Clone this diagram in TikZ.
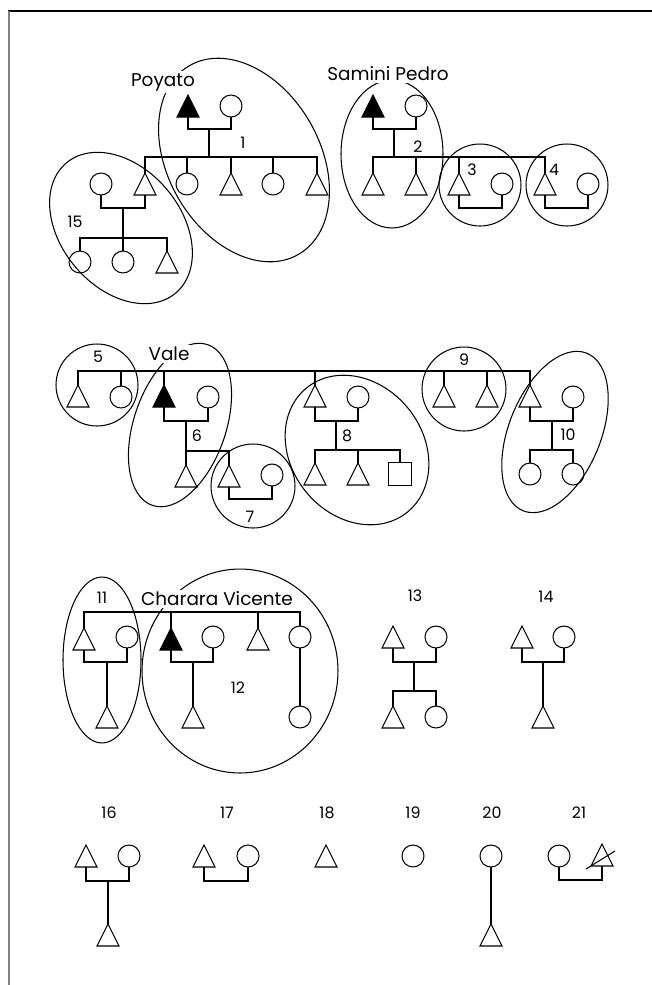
\documentclass[tikz,border=0pt]{standalone}
\usepackage{fontspec}
\setmainfont{Poppins}
\usetikzlibrary{calc}

\begin{document}
\begin{tikzpicture}[
    x=0.02cm, y=-0.02cm,
    line width=0.6pt,
    % Styles
    male/.style={rectangle, minimum width=0.44cm, minimum height=0.44cm, inner sep=0pt, outer sep=0pt},
    female/.style={circle, draw, minimum size=0.44cm, inner sep=0pt, outer sep=0pt},
    unknown/.style={rectangle, draw, minimum size=0.46cm, inner sep=0pt, outer sep=0pt},
    tri/.style={line join=miter},
    ego/.style={tri, fill=black},
    cluster/.style={line width=0.6pt},
    grpnum/.style={font=\fontsize{9}{10}\selectfont, inner sep=0pt},
    kinname/.style={font=\fontsize{10.5}{12}\selectfont, fill=white, inner sep=1pt}
]
    \useasboundingbox (0,0) rectangle (652,985);

    % frame
    \draw[line width=1.2pt] (8,11) -- (652,11);
    \draw[line width=1.2pt, black!50] (9,11) -- (9,985);

    % 1. FIRST ROW (Poyato, Samini Pedro)
    \node[male] (poyato) at (188,106) {};
    \node[female] (poyatow) at (231,106) {};
    \coordinate (m1) at (209,129);
    \coordinate (s1) at (209,157);
    \node[male] (c1a) at (145,184) {};
    \node[female] (c1b) at (187,184) {};
    \node[male] (c1c) at (231,184) {};
    \node[female] (c1d) at (273,184) {};
    \node[male] (c1e) at (317,184) {};
    \draw (poyato.south) |- (m1) -| (poyatow.south);
    \draw (m1) -- (s1);
    \draw (c1a.north) |- (s1) -| (c1e.north);
    \foreach \n in {c1b,c1c,c1d}
        \draw (\n.north) -- (\n.north |- s1);

    % couple 15
    \node[female] (w15) at (101,184) {};
    \coordinate (m15) at (123,208);
    \coordinate (s15) at (123,238);
    \node[female] (c15a) at (80,262) {};
    \node[female] (c15b) at (123,262) {};
    \node[male] (c15c) at (167,262) {};
    \draw (w15.south) |- (m15) -| (c1a.south);
    \draw (m15) -- (c15b.north);
    \draw (c15a.north) |- (s15) -| (c15c.north);

    % Samini Pedro
    \node[male] (samini) at (373,106) {};
    \node[female] (saminiw) at (416,106) {};
    \coordinate (m2) at (394,129);
    \coordinate (s2) at (394,157);
    \node[male] (c2a) at (373,184) {};
    \node[male] (c2b) at (416,184) {};
    \node[male] (c2c) at (459,184) {};
    \node[male] (c2d) at (545,184) {};
    \node[female] (w3) at (502,184) {};
    \node[female] (w4) at (588,184) {};
    \coordinate (m3) at (480,208);
    \coordinate (m4) at (566,208);
    \draw (samini.south) |- (m2) -| (saminiw.south);
    \draw (m2) -- (s2);
    \draw (c2a.north) |- (s2) -| (c2d.north);
    \foreach \n in {c2b,c2c}
        \draw (\n.north) -- (\n.north |- s2);
    \draw (c2c.south) |- (m3) -| (w3.south);
    \draw (c2d.south) |- (m4) -| (w4.south);

    % 2. SECOND ROW (Vale)
    \coordinate (sib2) at (300,371);
    \node[male] (c5a) at (78,396) {};
    \node[female] (c5b) at (121,397) {};
    \node[male] (vale) at (164,396) {};
    \node[female] (valew) at (208,397) {};
    \coordinate (m6) at (186,421);
    \coordinate (s6) at (186,451);
    \node[male] (c6a) at (186,476) {};
    \node[male] (c7a) at (229,476) {};
    \node[female] (w7) at (272,475) {};
    \coordinate (m7) at (250,499);
    \node[male] (c8a) at (315,396) {};
    \node[female] (w8) at (358,397) {};
    \coordinate (m8) at (336,421);
    \coordinate (s8) at (336,450);
    \node[male] (c8b) at (315,474) {};
    \node[male] (c8c) at (358,474) {};
    \node[unknown] (c8d) at (400,474) {};
    \node[male] (c9a) at (444,396) {};
    \node[male] (c9b) at (487,396) {};
    \node[male] (c10a) at (530,396) {};
    \node[female] (w10) at (573,397) {};
    \coordinate (m10) at (552,421);
    \coordinate (s10) at (552,450);
    \node[female] (c10b) at (530,474) {};
    \node[female] (c10c) at (573,474) {};

    \draw (c5a.north) |- (sib2) -| (c10a.north);
    \foreach \n in {c5b,vale,c8a,c9a,c9b}
        \draw (\n.north) -- (\n.north |- sib2);
    \draw (vale.south) |- (m6) -| (valew.south);
    \draw (m6) -- (s6);
    \draw (c6a.north) |- (s6) -| (c7a.north);
    \draw (c7a.south) |- (m7) -| (w7.south);
    \draw (c8a.south) |- (m8) -| (w8.south);
    \draw (m8) -- (s8);
    \draw (c8b.north) |- (s8) -| (c8d.north);
    \draw (c8c.north) -- (c8c.north |- s8);
    \draw (c10a.south) |- (m10) -| (w10.south);
    \draw (m10) -- (s10);
    \draw (c10b.north) |- (s10) -| (c10c.north);

    % 3. THIRD ROW (Charara Vicente, 13, 14)
    \coordinate (sib3) at (190,612);
    \node[male] (c11a) at (84,639) {};
    \node[female] (w11) at (127,637) {};
    \coordinate (m11) at (107,662);
    \node[male] (c11b) at (107,717) {};
    \node[male] (vicente) at (171,639) {};
    \node[female] (vicentew) at (213,637) {};
    \coordinate (m12) at (193,662);
    \node[male] (c12a) at (193,717) {};
    \node[male] (c12b) at (258,639) {};
    \node[female] (c12c) at (300,637) {};
    \node[female] (c12d) at (300,717) {};
    \draw (c11a.north) |- (sib3) -| (c12c.north);
    \foreach \n in {vicente,c12b}
        \draw (\n.north) -- (\n.north |- sib3);
    \draw (c11a.south) |- (m11) -| (w11.south);
    \draw (m11) -- (c11b.north);
    \draw (vicente.south) |- (m12) -| (vicentew.south);
    \draw (m12) -- (c12a.north);
    \draw (c12c.south) -- (c12d.north);

    \node[male] (t13) at (393,637) {};
    \node[female] (w13) at (436,637) {};
    \coordinate (m13) at (414,662);
    \coordinate (s13) at (414,691);
    \node[male] (c13a) at (393,717) {};
    \node[female] (c13b) at (436,717) {};
    \draw (t13.south) |- (m13) -| (w13.south);
    \draw (m13) -- (s13);
    \draw (c13a.north) |- (s13) -| (c13b.north);

    \node[male] (t14) at (522,637) {};
    \node[female] (w14) at (564,637) {};
    \coordinate (m14) at (543,662);
    \node[male] (c14) at (543,717) {};
    \draw (t14.south) |- (m14) -| (w14.south);
    \draw (m14) -- (c14.north);

    % 4. LAST ROW (16 - 21)
    \node[male] (t16) at (86,856) {};
    \node[female] (w16) at (129,856) {};
    \coordinate (m16) at (108,881);
    \node[male] (c16) at (108,935) {};
    \draw (t16.south) |- (m16) -| (w16.south);
    \draw (m16) -- (c16.north);
    \node[male] (t17) at (204,856) {};
    \node[female] (w17) at (248,856) {};
    \coordinate (m17) at (226,881);
    \draw (t17.south) |- (m17) -| (w17.south);
    \node[male] (t18) at (326,856) {};
    \node[female] (w19) at (413,856) {};
    \node[female] (w20) at (491,856) {};
    \node[male] (c20) at (491,935) {};
    \draw (w20.south) -- (c20.north);
    \node[female] (w21) at (559,856) {};
    \node[male] (t21) at (602,855) {};
    \coordinate (m21) at (580,880);
    \draw (w21.south) |- (m21) -| (t21.south);
    \draw ($(t21.center)+(-16,14)$) -- ($(t21.center)+(13,-4)$);

    % triangles
    \foreach \n in {c1a,c1c,c1e,c15c,c2a,c2b,c2c,c2d,c5a,c6a,c7a,c8a,c8b,c8c,c9a,c9b,c10a,
                    c11a,c11b,c12a,c12b,t13,c13a,t14,c14,t16,c16,t17,t18,c20,t21}
        \draw[tri] (\n.south west) -- (\n.north) -- (\n.south east) -- cycle;
    \foreach \n in {poyato,samini,vale,vicente}
        \draw[ego] (\n.south west) -- (\n.north) -- (\n.south east) -- cycle;

    % groups
    \draw[cluster, rotate around={-60:(244,160)}] (244,160) ellipse [x radius=2.18cm, y radius=1.52cm];
    \draw[cluster, rotate around={-50:(121,228)}] (121,228) ellipse [x radius=1.70cm, y radius=1.20cm];
    \draw[cluster] (392,154) ellipse [x radius=1.02cm, y radius=1.48cm];
    \draw[cluster] (480,185) circle [radius=0.82cm];
    \draw[cluster] (567,185) circle [radius=0.82cm];
    \draw[cluster] (97,385) circle [radius=0.82cm];
    \draw[cluster, rotate around={71:(180,425)}] (180,425) ellipse [x radius=1.70cm, y radius=0.92cm];
    \draw[cluster] (253,486) circle [radius=0.84cm];
    \draw[cluster, rotate around={-51:(357,450)}] (357,450) ellipse [x radius=1.60cm, y radius=1.32cm];
    \draw[cluster] (464,389) circle [radius=0.84cm];
    \draw[cluster, rotate around={68:(555,432)}] (555,432) ellipse [x radius=1.70cm, y radius=0.92cm];
    \draw[cluster] (102,660) ellipse [x radius=0.78cm, y radius=1.66cm];
    \draw[cluster] (240,671) ellipse [x radius=1.96cm, y radius=2.04cm];

    % names
    \node[kinname] (npoyato) at (163,82) {Poyato};
    \node[kinname] (nsamini) at (388,74) {Samini Pedro};
    \node[kinname] (nvale) at (169,354) {Vale};
    \node[kinname] (nvicente) at (217,599) {Charara Vicente};

    % group numbers
    \node[grpnum] (g1) at (243,143) {1};
    \node[grpnum] (g2) at (418,147) {2};
    \node[grpnum] (g3) at (472,170) {3};
    \node[grpnum] (g4) at (554,170) {4};
    \node[grpnum] (g5) at (98,357) {5};
    \node[grpnum] (g6) at (197,436) {6};
    \node[grpnum] (g7) at (250,517) {7};
    \node[grpnum] (g8) at (347,436) {8};
    \node[grpnum] (g9) at (464,360) {9};
    \node[grpnum] (g10) at (568,435) {10};
    \node[grpnum] (g11) at (102,598) {11};
    \node[grpnum] (g12) at (238,688) {12};
    \node[grpnum] (g13) at (415,596) {13};
    \node[grpnum] (g14) at (546,597) {14};
    \node[grpnum] (g15) at (75,222) {15};
    \node[grpnum] (g16) at (109,813) {16};
    \node[grpnum] (g17) at (227,813) {17};
    \node[grpnum] (g18) at (327,813) {18};
    \node[grpnum] (g19) at (413,813) {19};
    \node[grpnum] (g20) at (492,813) {20};
    \node[grpnum] (g21) at (579,813) {21};

\end{tikzpicture}
\end{document}
